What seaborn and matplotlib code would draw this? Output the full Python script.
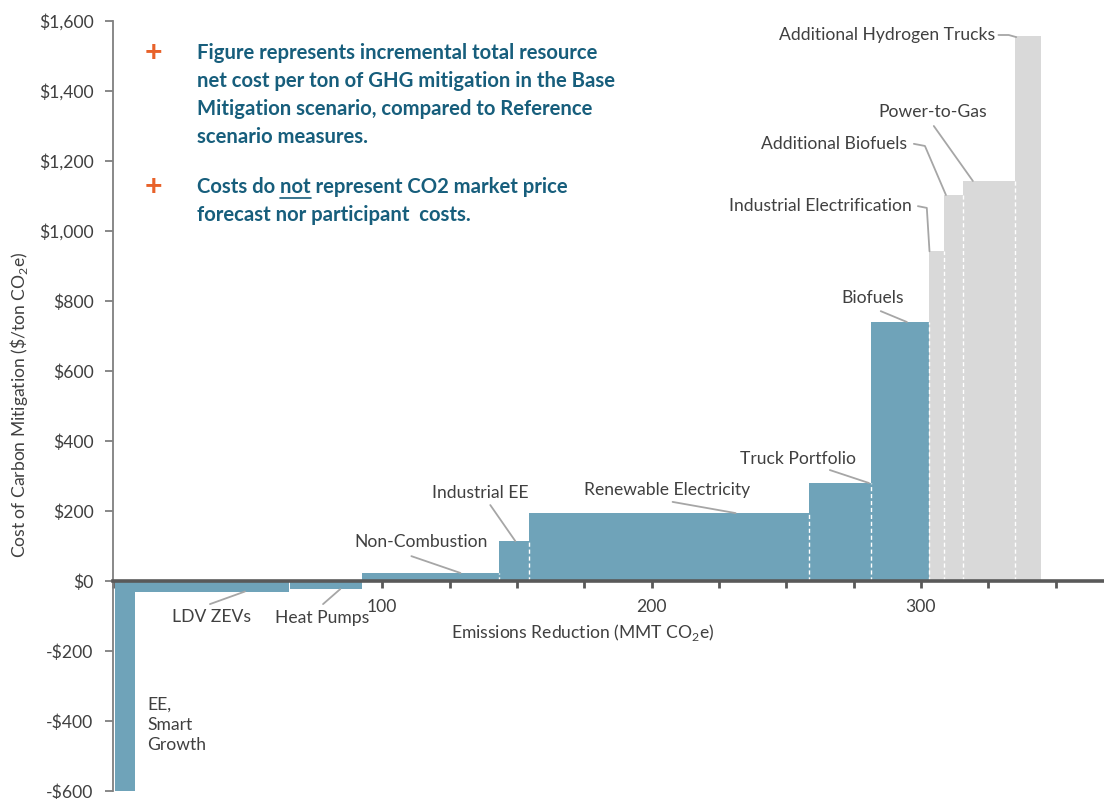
import matplotlib
matplotlib.use("Agg")
import matplotlib.pyplot as plt
import seaborn as sns
from matplotlib.ticker import FuncFormatter, FixedLocator

# data
measures = ["EE, Smart Growth", "LDV ZEVs", "Heat Pumps", "Non-Combustion", "Industrial EE",
            "Renewable Electricity", "Truck Portfolio", "Biofuels", "Industrial Electrification",
            "Additional Biofuels", "Power-to-Gas", "Additional Hydrogen Trucks"]
starts = [0.7, 8.2, 65.8, 92.6, 143.5, 154.6, 258.4, 281.4, 303.0, 308.7, 315.8, 335.1]
ends = [8.2, 65.4, 92.6, 143.5, 154.6, 258.4, 281.4, 303.0, 308.7, 315.8, 335.1, 344.6]
costs = [-600, -30, -23, 23, 114, 194, 280, 740, 942, 1103, 1143, 1557]
groups = ["base"] * 8 + ["additional"] * 4

x_ticks = list(range(0, 375, 25))
x_labels = {100: "100", 200: "200", 300: "300"}
y_ticks = list(range(-600, 1601, 200))

# label text position, alignment, leader line points (data coords)
labels = [
    ("Additional Hydrogen Trucks", (327.5, 1560), "right", [(328.8, 1560), (332.6, 1560), (335.4, 1554)]),
    ("Power-to-Gas", (304.5, 1340), "center", [(304.8, 1300), (319.3, 1143)]),
    ("Additional Biofuels", (294.8, 1249), "right", [(297.4, 1249), (301.5, 1243), (309.3, 1103)]),
    ("Industrial Electrification", (296.7, 1071), "right", [(298.9, 1071), (302.2, 1066), (303.2, 942)]),
    ("Biofuels", (282.2, 808), "center", [(285.1, 771), (294.8, 740)]),
    ("Truck Portfolio", (254.3, 349), "center", [(266.2, 317), (280.7, 280)]),
    ("Renewable Electricity", (205.6, 260), "center", [(207.8, 226), (231.2, 194)]),
    ("Industrial EE", (136.4, 251), "center", [(140.1, 217), (149.4, 114)]),
    ("Non-Combustion", (114.5, 111), "center", [(110.8, 71), (129.0, 23)]),
    ("LDV ZEVs", (36.4, -103), "center", [(36.0, -66), (49.0, -30)]),
    ("Heat Pumps", (77.7, -106), "center", [(78.0, -66), (84.4, -23)]),
    ("EE,\nSmart\nGrowth", (12.6, -411), "left", []),
]

bullets = [
    ["Figure represents incremental total resource",
     "net cost per ton of GHG mitigation in the Base",
     "Mitigation scenario, compared to Reference",
     "scenario measures."],
    ["Costs do not represent CO2 market price",
     "forecast nor participant  costs."],
]

palette = {"base": "#6FA3B9", "additional": "#D9D9D9"}
text_blue = "#175E7C"
grey_txt = "#404040"
fs = 12.6
bfs = 14.6

sns.set_theme(style="white")
plt.rcParams["font.family"] = ["Lato", "DejaVu Sans"]
plt.rcParams["mathtext.fontset"] = "custom"
plt.rcParams["mathtext.rm"] = "Lato"

W, H = 1104, 799
fig = plt.figure(figsize=(W / 100, H / 100), dpi=100)
ax = fig.add_axes([113 / W, 1 - 791 / H, (W - 113) / W, (791 - 21) / H])

widths = [e - s for s, e in zip(starts, ends)]
ax.bar(starts, costs, width=widths, align="edge",
       color=[palette[g] for g in groups], linewidth=0, zorder=2)

# dashed white separators between touching bars
for i in range(1, len(costs)):
    if costs[i] > 0 and costs[i - 1] > 0 and abs(starts[i] - ends[i - 1]) < 1:
        ax.vlines(starts[i], 0, min(costs[i], costs[i - 1]), colors="white",
                  linestyles=(0, (3, 2)), linewidth=1, zorder=3)

for text, (tx, ty), ha, pts in labels:
    ax.text(tx, ty, text, ha=ha, va="center", fontsize=fs, color=grey_txt,
            linespacing=1.3, zorder=5)
    if pts:
        ax.plot([p[0] for p in pts], [p[1] for p in pts], color="#A6A6A6", lw=1.3, zorder=4)

ax.set_xlim(0, 368)
ax.set_ylim(-600, 1600)
sns.despine(ax=ax, top=True, right=True)
ax.spines["bottom"].set_position(("data", 0))
ax.spines["bottom"].set_color("#595959")
ax.spines["bottom"].set_linewidth(2.6)
ax.spines["bottom"].set_zorder(6)
ax.spines["left"].set_color("#7F7F7F")
ax.spines["left"].set_linewidth(1.3)

ax.xaxis.set_major_locator(FixedLocator(x_ticks))
ax.set_xticklabels([x_labels.get(t, "") for t in x_ticks])
ax.set_yticks(y_ticks)
ax.yaxis.set_major_formatter(FuncFormatter(lambda v, p: ("-$" if v < 0 else "$") + f"{abs(int(v)):,}"))
ax.tick_params(axis="x", direction="out", length=5, width=2, color="#595959",
               labelsize=fs, labelcolor=grey_txt, pad=8, bottom=True)
ax.tick_params(axis="y", direction="out", length=6, width=1.3, color="#7F7F7F",
               labelsize=fs, labelcolor=grey_txt, pad=8, left=True)

ax.set_xlabel("Emissions Reduction (MMT CO$_\\mathrm{2}$e)", fontsize=fs, color=grey_txt)
ax.xaxis.set_label_coords((583 - 113) / (W - 113), (791 - 622) / 770)
ax.set_ylabel("Cost of Carbon Mitigation (\\$/ton CO$_\\mathrm{2}$e)", fontsize=fs, color=grey_txt)
ax.yaxis.set_label_coords(-(113 - 30) / (W - 113), (791 - 405) / 770)

# bullet text block
line_y = [[53, 81, 109, 137], [187, 215]]
for lines, ys in zip(bullets, line_y):
    fig.text(153 / W, 1 - ys[0] / H, "+", fontsize=22, fontweight="bold",
             color="#E8622A", ha="center", va="center")
    for line, yy in zip(lines, ys):
        fig.text(197 / W, 1 - yy / H, line, fontsize=bfs, fontweight="bold",
                 color=text_blue, ha="left", va="center")

# underline "not"
fig.canvas.draw()
r = fig.canvas.get_renderer()
def text_w(s):
    t = fig.text(0, 0, s, fontsize=bfs, fontweight="bold")
    w = t.get_window_extent(r).width
    t.remove()
    return w
space = text_w("x x") - text_w("xx")
x0 = 197 + text_w("Costs do") + space
x1 = x0 + text_w("not")
uy = 1 - (187 + 11) / H
fig.add_artist(plt.Line2D([x0 / W, x1 / W], [uy, uy], color=text_blue, lw=1.2))

fig.savefig("out.png", dpi=100)
